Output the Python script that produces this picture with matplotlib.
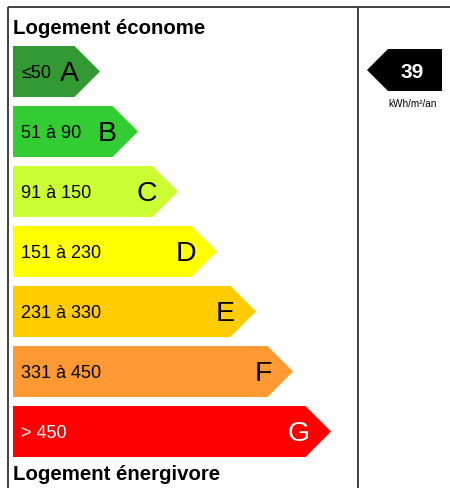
import matplotlib
matplotlib.use("Agg")
import matplotlib.pyplot as plt
from matplotlib.patches import Polygon

# DPE energy classes
letters = ["A", "B", "C", "D", "E", "F", "G"]
ranges = ["≤50", "51 à 90", "91 à 150", "151 à 230", "231 à 330", "331 à 450", "> 450"]
colors = ["#339933", "#33cc33", "#ccff33", "#ffff00", "#ffcc00", "#ff9933", "#ff0000"]
text_colors = ["black", "black", "black", "black", "black", "black", "white"]
bar_tips = [100, 138, 178, 217, 256, 293, 331]
value = 39
unit = "kWh/m²/an"
top_label = "Logement économe"
bottom_label = "Logement énergivore"

plt.rcParams["font.family"] = ["Liberation Sans", "DejaVu Sans"]

fig = plt.figure(figsize=(4.5, 4.89), dpi=100)
ax = fig.add_axes([0, 0, 1, 1])
ax.set_xlim(0, 450)
ax.set_ylim(489, 0)
ax.axis("off")

# frame
line_kw = dict(color="#333333", linewidth=1.3, solid_capstyle="butt")
ax.plot([8, 450], [8, 8], **line_kw)
ax.plot([8, 8], [8, 489], **line_kw)
ax.plot([358, 358], [8, 489], **line_kw)

ax.text(13, 28, top_label, fontsize=14.7, fontweight="bold", va="center", ha="left")
ax.text(13, 475, bottom_label, fontsize=14.7, fontweight="bold", va="center", ha="left")

x0, h, y_first, step = 13, 51, 47, 60
for i, (let, rng, col, tcol, tip) in enumerate(zip(letters, ranges, colors, text_colors, bar_tips)):
    top = y_first + i * step
    mid = top + h / 2
    body = tip - h / 2
    ax.add_patch(Polygon([(x0, top), (body, top), (tip, mid), (body, top + h), (x0, top + h)],
                         closed=True, facecolor=col, edgecolor="none"))
    ax.text(x0 + 8, mid + 1.5, rng, fontsize=13, color=tcol, va="center", ha="left")
    ax.text(tip - 21, mid + 1.5, let, fontsize=20.5, color=tcol, va="center", ha="right")

# indicator arrow
ay_top, ay_bot = 50, 92
ay_mid = (ay_top + ay_bot) / 2
ax.add_patch(Polygon([(367, ay_mid), (388, ay_top), (442, ay_top), (442, ay_bot), (388, ay_bot)],
                     closed=True, facecolor="black", edgecolor="none"))
ax.text(412, ay_mid + 1, str(value), fontsize=15, fontweight="bold", color="white",
        va="center", ha="center")
ax.text(413, 104, unit, fontsize=7.2, va="center", ha="center")

fig.savefig("out.png", dpi=100)
